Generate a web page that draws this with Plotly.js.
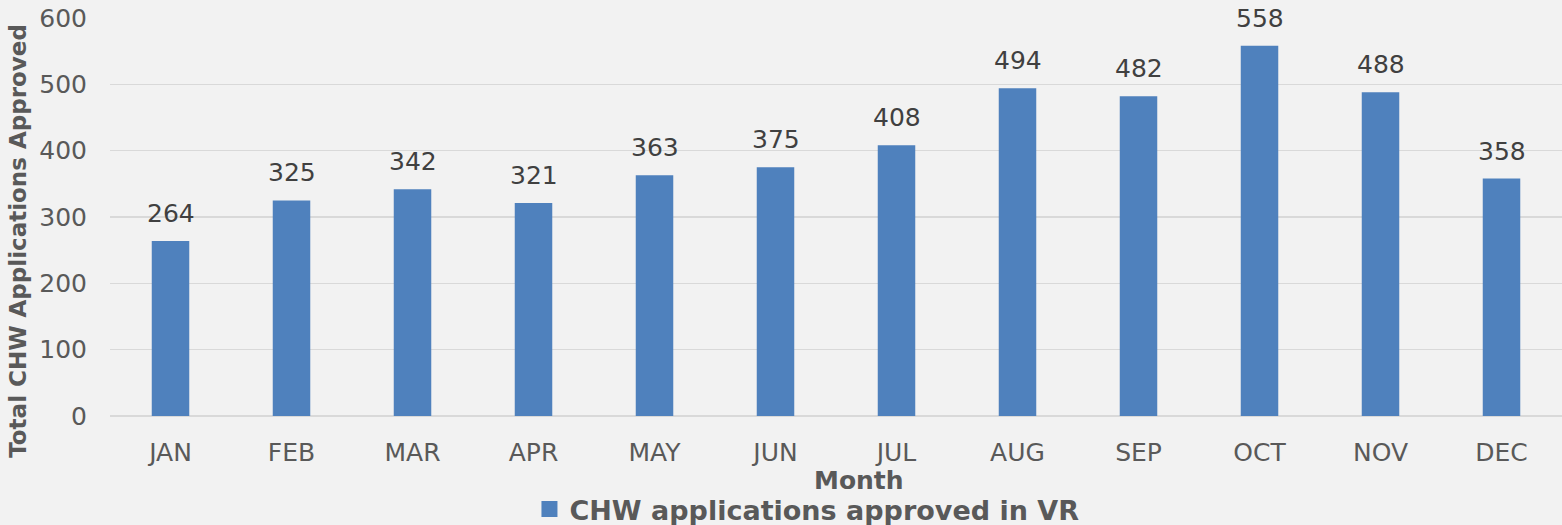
<!DOCTYPE html>
<html>
<head>
<meta charset="utf-8">
<script src="https://cdn.plot.ly/plotly-3.0.1.min.js"></script>
<style>html,body{margin:0;padding:0;background:#f2f2f2;}#chart{width:1562px;height:525px;}</style>
</head>
<body>
<div id="chart"></div>
<script>
const months = ["JAN","FEB","MAR","APR","MAY","JUN","JUL","AUG","SEP","OCT","NOV","DEC"];
const approved = [264,325,342,321,363,375,408,494,482,558,488,358];
const seriesName = "CHW applications approved in VR";
const yTicks = [0,100,200,300,400,500,600];

const FONT = "DejaVu Sans, Verdana, sans-serif";
const BLUE = "#4f81bd";

const trace = {
  type: "bar",
  x: months,
  y: approved,
  name: seriesName,
  width: 0.31,
  marker: {color: BLUE},
  showlegend: false,
  legendgroup: "s",
  hoverinfo: "x+y"
};

// legend-only entry with a larger square swatch
const legendEntry = {
  type: "scatter", mode: "markers",
  x: [null], y: [null],
  name: seriesName, legendgroup: "s",
  marker: {symbol: "square", size: 16, color: BLUE},
  showlegend: true
};

const labels = months.map((m, i) => ({
  x: m, y: approved[i], xref: "x", yref: "y",
  text: String(approved[i]), showarrow: false,
  yanchor: "bottom", yshift: 11,
  font: {family: FONT, size: 25, color: "#404040"}
}));

const layout = {
  width: 1562, height: 525,
  paper_bgcolor: "#f2f2f2", plot_bgcolor: "#f2f2f2",
  margin: {l: 110, r: 0, t: 18, b: 109, autoexpand: false},
  bargap: 0.69,
  showlegend: true,
  legend: {
    orientation: "h", x: 0.48, xanchor: "center", y: -0.235, yanchor: "middle",
    font: {family: FONT, size: 27, color: "#595959", weight: "bold"},
    bgcolor: "rgba(0,0,0,0)", itemwidth: 30
  },
  xaxis: {
    type: "category",
    tickfont: {family: FONT, size: 25, color: "#595959"},
    ticks: "", showgrid: false, showline: false, zeroline: false,
    ticklabelstandoff: 19, fixedrange: true, automargin: false
  },
  yaxis: {
    range: [0, 600], tickvals: yTicks,
    tickfont: {family: FONT, size: 25, color: "#595959"},
    showgrid: true, gridcolor: "#d9d9d9", gridwidth: 1.5,
    zeroline: true, zerolinecolor: "#d9d9d9", zerolinewidth: 1.5,
    ticks: "", showline: false, ticklabelstandoff: 22, fixedrange: true, automargin: false
  },
  annotations: labels.concat([
    {text: "<b>Month</b>", xref: "paper", yref: "paper", x: 0.516, y: -0.163,
     xanchor: "center", yanchor: "middle", showarrow: false,
     font: {family: FONT, size: 25, color: "#595959"}},
    {text: "<b>Total CHW Applications Approved</b>", xref: "paper", yref: "paper",
     x: -0.0634, y: 0.44, xanchor: "center", yanchor: "middle", textangle: -90,
     showarrow: false, font: {family: FONT, size: 23, color: "#595959"}}
  ])
};

Plotly.newPlot("chart", [trace, legendEntry], layout, {displayModeBar: false, staticPlot: true});
</script>
</body>
</html>
